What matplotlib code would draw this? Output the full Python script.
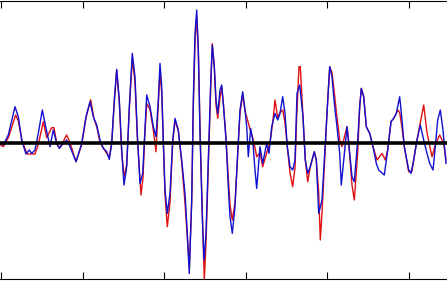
import matplotlib
matplotlib.use("Agg")
import matplotlib.pyplot as plt
import numpy as np

# traced signal vertices (x in samples, y in amplitude)
blue_x = [0, 3.3, 8.3, 15, 18.3, 21.7, 26, 29.3, 31.7, 35, 38.3, 42.3, 45.7, 50, 53.3, 56.7,
          59.3, 63.3, 66.7, 70, 76, 81.7, 86, 90, 93.3, 96.7, 100, 103.3, 106.7, 109.3, 111.7,
          114.3, 116.7, 119.3, 121.7, 124, 126.7, 129.3, 132.3, 135, 137.3, 140, 142.7, 144.7,
          146.7, 150, 153.3, 156, 158.3, 160, 161.7, 163.3, 165, 167.3, 170, 172.7, 175, 178.3,
          181.7, 185, 187.3, 189.3, 191.7, 193.3, 195, 196.7, 198.3, 200, 202.3, 204, 206, 208.3,
          210.7, 212.3, 214.3, 216, 217.7, 220, 221.7, 223.3, 226, 228.3, 230, 232.3, 235, 237.3,
          240, 242.7, 245, 246.7, 248.3, 250.7, 252.7, 255, 256.7, 260, 262.7, 266.7, 269, 271.7,
          275, 277.7, 280, 282.7, 285, 287.3, 290, 292.7, 295, 297, 299.7, 303, 305.3, 307.7,
          310.3, 314.3, 316.3, 318.7, 322, 325.3, 327.7, 329.7, 332, 334.3, 337, 339.7, 341.3,
          347, 348.7, 352, 354.3, 357.7, 359.7, 361.3, 363.7, 366.3, 369.7, 373, 376.3, 378.7,
          384.3, 387.7, 391, 393.7, 396.3, 399.7, 402, 404.3, 408.7, 411, 413.7, 417, 420.3,
          423.7, 427, 429.7, 433, 435.3, 437.7, 440.3, 443, 446]
blue_y = [0, -2.3, 7.7, 36, 26, 2.7, -11.3, -7.3, -10.7, -7.3, 9.3, 32.7, 16, -4, 12.7, -0.7,
          -5.7, -0.7, 2.7, -4, -19, -0.7, 26, 41, 26, 17.7, 2.7, -5.7, -9, -16.7, -0.7,
          42.7, 73.3, 42.7, -7.3, -42.3, -24, 36, 89.3, 66, 9.3, -40.7, -30.7, 9.3,
          47.7, 36, 16, 6, 42.7, 79.3, 56, 2.7, -47.3, -70.7, -50.7, 2.7, 24.3, 12.7,
          -17.3, -50.7, -90.7, -130.7, -57.3, 42.7, 109.3, 132.7, 92.7, 9.3, -74, -117.3, -90.7, -17.3,
          59.3, 97.7, 76, 42.7, 29.3, 52.7, 57.7, 39.3, 2.7, -44, -74, -90.7, -64, -17.3,
          32.7, 51, 32.7, 16, -14, 14.3, 2.7, -27.3, -45.7, -4, -20.7, -0.7, -10.7, 16,
          29.3, 22.7, 29.3, 46, 29.3, -4, -24, -27.3, -17.3, 49.3, 57.7, 26, -17.3, -30.7,
          -24, -9, -17.3, -70.7, -57.3, 0, 42.7, 76, 66, 39.3, 16, -10.7, -42.3,
          16, 0, -34, -39, 2.7, 36, 54.3, 46, 16, 9.3, -4, -20.7, -27.3,
          -32.3, -7.3, 21, 24.3, 29.3, 46, 22.7, -4, -27.3, -30.7, -17.3, 2.7, 17.7,
          2.7, -10.7, -20.7, -27.3, -4, 22.7, 32.7, 12.7, -20.7]

red_x = [0, 3.3, 8.3, 15.7, 18.3, 22, 27, 31.7, 35, 38.3, 43.3, 46.7, 51.7, 54, 57, 60,
         66.7, 70, 76, 81.7, 86, 90.7, 94, 97, 100, 106.7, 109.3, 111.7, 114.3, 116.7, 119.3,
         121.7, 124, 126.7, 129.3, 132.3, 135, 137.3, 141, 143, 144.7, 146.7, 150, 153.3, 156,
         158.3, 160, 161.7, 163.3, 165, 167.3, 170, 172.7, 175, 178.3, 181.7, 185, 187.3, 189.3,
         191.7, 193.3, 195, 196.7, 198.3, 200, 202.3, 204.3, 206, 208.3, 210.7, 212.3, 214.3,
         216, 217.7, 220, 221.7, 223.3, 226, 228.3, 230, 232.3, 235, 237.3, 240, 242.7, 245,
         248.3, 250.7, 252.7, 255, 256.7, 260, 262.7, 266.7, 270, 272.7, 275, 277.7, 280,
         282.7, 285, 287.3, 290, 292.7, 295, 296.7, 299, 300.3, 303, 305.3, 307.7, 310.3,
         314.3, 316.3, 318.7, 320.3, 322, 325.3, 327.7, 329.7, 332, 334.3, 337, 339.7, 342,
         347, 348.7, 352, 354.3, 357.7, 359.7, 361.3, 363.7, 366.3, 369.7, 373, 377, 382,
         385.3, 387.7, 391, 393.7, 398, 399.7, 402, 404.3, 408.7, 412, 413.7, 417, 423.7,
         427, 432, 435.3, 439.7, 443.7, 446]
red_y = [-2, -4, 5, 27.7, 22, 2, -11.3, -11.3, -11.3, -2, 21, 5, 15, 15, -2, -5,
         7.7, 0, -19, -2, 25, 43, 24, 15, 0, -10.7, -14, -0.7, 40, 72.7, 40,
         -10, -34, -22, 33, 84.3, 60, 5, -52.3, -35, 5, 39.3, 33, 12.7, -9,
         38, 70, 50, 0, -52, -84, -60, 0, 22, 12, -20, -60, -95, -125,
         -60, 35, 100, 125, 95, 15, -70, -137.3, -100, -25, 55, 99, 76,
         38, 24.3, 45, 55, 40, 5, -35, -62, -77.3, -60, -20, 30, 47.7, 32,
         20, 11, 5, -5, -14, -10, -24, -10, 0, 20, 42.7, 25, 30,
         32.7, 20, -4, -30, -44, -25, 26, 76, 76, 26, -17.3, -39, -24,
         -9, -17.3, -50, -97.3, -70, -5, 42.7, 76, 70, 50, 25, 2.7, -4,
         16, 0, -42.3, -57.3, -10, 36, 54.3, 46, 16, 9.3, -4, -17.3, -10.7,
         -17.3, -7.3, 21, 24.3, 32.7, 30, 15, -4, -29, -28.3, -17.3, 2.7, 37.7,
         10, -14, -2, 7.7, -0.7, -17.3]

tick_pos = np.arange(6) * 81.5 + 1

fig = plt.figure(figsize=(4.47, 2.81), dpi=100)
ax = fig.add_axes([0, 2 / 281, 1, 278 / 281])

ax.plot(red_x, red_y, color="#e01010", lw=1.0)
ax.plot(blue_x, blue_y, color="#1010d0", lw=1.0)
ax.axhline(0, color="black", lw=2.6)

ax.set_xlim(0, 447)
ax.set_ylim(-136.3, 141.7)
ax.set_xticks(tick_pos)
ax.set_yticks([])
ax.tick_params(axis="x", direction="in", length=5.3, width=0.8, top=True,
               labelbottom=False, labeltop=False)
ax.spines["left"].set_visible(False)
ax.spines["right"].set_visible(False)
for s in ("top", "bottom"):
    ax.spines[s].set_linewidth(0.8)

fig.savefig("out.png", dpi=100)
